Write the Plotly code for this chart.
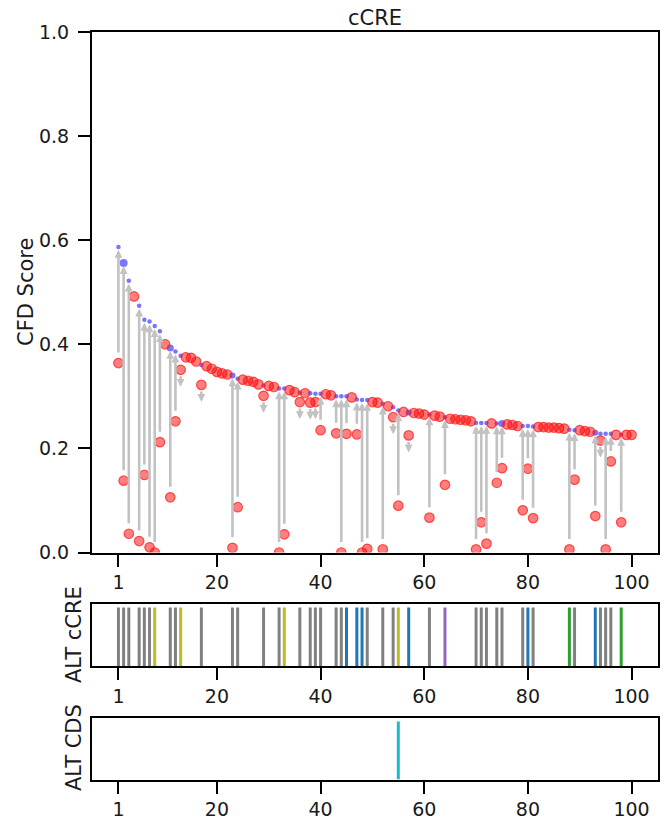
import plotly.graph_objects as go

# ---------------- data ----------------
positions = list(range(1, 101))

ref_score = [
    0.587, 0.556, 0.522, 0.492, 0.474, 0.447, 0.444, 0.435, 0.425, 0.400,
    0.393, 0.386, 0.378, 0.375, 0.374, 0.367, 0.360, 0.358, 0.353, 0.347,
    0.344, 0.342, 0.340, 0.334, 0.332, 0.330, 0.328, 0.323, 0.321, 0.320,
    0.318, 0.315, 0.315, 0.312, 0.308, 0.307, 0.306, 0.306, 0.305, 0.305,
    0.304, 0.302, 0.300, 0.300, 0.300, 0.298, 0.294, 0.293, 0.293, 0.289,
    0.288, 0.286, 0.281, 0.279, 0.273, 0.270, 0.269, 0.268, 0.267, 0.265,
    0.265, 0.263, 0.261, 0.260, 0.257, 0.256, 0.255, 0.254, 0.252, 0.249,
    0.249, 0.249, 0.248, 0.248, 0.248, 0.246, 0.245, 0.243, 0.243, 0.243,
    0.242, 0.241, 0.241, 0.240, 0.240, 0.239, 0.238, 0.236, 0.235, 0.235,
    0.233, 0.232, 0.230, 0.228, 0.228, 0.228, 0.226, 0.226, 0.226, 0.226,
]

alt_score = [
    0.364, 0.138, 0.036, 0.492, 0.022, 0.149, 0.010, 0.000, 0.212, 0.400,
    0.106, 0.252, 0.351, 0.375, 0.374, 0.367, 0.322, 0.358, 0.353, 0.347,
    0.344, 0.342, 0.009, 0.087, 0.332, 0.330, 0.328, 0.323, 0.301, 0.320,
    0.318, 0.000, 0.035, 0.312, 0.308, 0.289, 0.306, 0.288, 0.289, 0.235,
    0.304, 0.302, 0.229, 0.000, 0.228, 0.298, 0.227, 0.000, 0.007, 0.289,
    0.288, 0.006, 0.281, 0.260, 0.090, 0.270, 0.225, 0.268, 0.267, 0.265,
    0.067, 0.263, 0.261, 0.130, 0.257, 0.256, 0.255, 0.254, 0.252, 0.006,
    0.058, 0.017, 0.248, 0.134, 0.162, 0.246, 0.245, 0.243, 0.081, 0.161,
    0.066, 0.241, 0.241, 0.240, 0.240, 0.239, 0.238, 0.006, 0.140, 0.235,
    0.233, 0.232, 0.070, 0.215, 0.006, 0.175, 0.226, 0.058, 0.226, 0.226,
]

alt_ccre_pos = [1, 2, 3, 5, 6, 7, 8, 11, 12, 13, 17, 23, 24, 29, 32, 33, 36,
                38, 39, 40, 43, 44, 45, 47, 48, 49, 52, 54, 55, 57, 61, 64,
                70, 71, 72, 74, 75, 79, 80, 81, 88, 89, 93, 94, 95, 96, 98]
alt_ccre_type = ["a", "a", "a", "a", "a", "a", "b", "a", "a", "b", "a", "a",
                 "a", "a", "a", "b", "a", "a", "a", "a", "a", "a", "c", "c",
                 "c", "a", "a", "a", "b", "c", "a", "d", "a", "a", "a", "a",
                 "a", "a", "c", "a", "e", "a", "c", "a", "a", "a", "e"]

alt_cds_pos = [55]
alt_cds_type = ["f"]

x_ticks = [1, 20, 40, 60, 80, 100]
y_ticks = [0.0, 0.2, 0.4, 0.6, 0.8, 1.0]
y_tick_text = ["0.0", "0.2", "0.4", "0.6", "0.8", "1.0"]

# ---------------- style ----------------
W, H = 667, 823
FONT = "DejaVu Sans"
TXT = "#1a1a1a"
type_colors = {"a": "#808080", "b": "#bcbd22", "c": "#1f77b4",
               "d": "#9467bd", "e": "#2ca02c", "f": "#17becf"}
big_blue = {2: 8, 11: 7, 23: 6, 57: 6, 75: 7, 93: 6}
ARROW = "#c2c2c2"
XR = [-4.1, 105.1]

def px2x(p):
    return p / W

def py2y(p):
    return 1 - p / H

main_x = [px2x(92), px2x(658)]
main_y = [py2y(552.5), py2y(32)]
ccre_y = [py2y(666), py2y(604)]
cds_y = [py2y(779.5), py2y(718)]

fig = go.Figure()

# blue reference points where alt differs
bx, by, bs = [], [], []
for p, r, a in zip(positions, ref_score, alt_score):
    if abs(r - a) > 1e-9:
        bx.append(p)
        by.append(r)
        bs.append(big_blue.get(p, 4.5))

fig.add_trace(go.Scatter(
    x=bx, y=by, mode="markers", xaxis="x", yaxis="y",
    marker=dict(size=bs, color="rgba(25,25,255,0.85)", line=dict(width=0)),
    showlegend=False, hoverinfo="skip"))

fig.add_trace(go.Scatter(
    x=positions, y=alt_score, mode="markers", xaxis="x", yaxis="y",
    marker=dict(size=9.5, color="rgba(255,0,0,0.5)",
                line=dict(width=1.2, color="rgba(255,30,30,0.75)")),
    showlegend=False, hoverinfo="skip"))

annotations = []
for p, r, a in zip(positions, ref_score, alt_score):
    d = r - a
    if d <= 1e-9:
        continue
    if d > 0.05:
        annotations.append(dict(
            x=p, y=r, ax=p, ay=a, xref="x", yref="y", axref="x", ayref="y",
            text="", showarrow=True, arrowhead=2, arrowsize=0.6,
            arrowwidth=2.6, arrowcolor=ARROW, standoff=3, startstandoff=9))
    else:
        annotations.append(dict(
            x=p, y=a, ax=0, ay=-12, xref="x", yref="y",
            text="", showarrow=True, arrowhead=2, arrowsize=0.6,
            arrowwidth=2.6, arrowcolor=ARROW, yshift=-17))

# lower panels: vertical lines grouped by type
def add_vlines(pos, types, xa, ya):
    groups = {}
    for p, t in zip(pos, types):
        groups.setdefault(t, []).append(p)
    for t, ps in groups.items():
        xs, ys = [], []
        for p in ps:
            xs += [p, p, None]
            ys += [0, 1, None]
        fig.add_trace(go.Scatter(
            x=xs, y=ys, mode="lines", xaxis=xa, yaxis=ya,
            line=dict(color=type_colors[t], width=3),
            showlegend=False, hoverinfo="skip"))

add_vlines(alt_ccre_pos, alt_ccre_type, "x2", "y2")
add_vlines(alt_cds_pos, alt_cds_type, "x3", "y3")

axis_common = dict(showline=True, mirror=True, linecolor="black", linewidth=2,
                   showgrid=False, zeroline=False, automargin=False)
xcommon = dict(axis_common, range=XR, tickvals=x_ticks, ticks="outside",
               ticklen=12, tickwidth=2, tickcolor="black",
               tickfont=dict(family=FONT, size=19, color=TXT))

# titles
cx = (main_x[0] + main_x[1]) / 2
annotations.append(dict(x=cx, y=py2y(18), xref="paper", yref="paper",
                        text="cCRE", showarrow=False, xanchor="center",
                        yanchor="middle",
                        font=dict(family=FONT, size=21, color=TXT)))
annotations.append(dict(x=px2x(26), y=py2y(292), xref="paper", yref="paper",
                        text="CFD Score", showarrow=False, textangle=-90,
                        xanchor="center", yanchor="middle",
                        font=dict(family=FONT, size=21, color=TXT)))
annotations.append(dict(x=px2x(74), y=py2y(635), xref="paper", yref="paper",
                        text="ALT cCRE", showarrow=False, textangle=-90,
                        xanchor="center", yanchor="middle",
                        font=dict(family=FONT, size=21, color=TXT)))
annotations.append(dict(x=px2x(74), y=py2y(748), xref="paper", yref="paper",
                        text="ALT CDS", showarrow=False, textangle=-90,
                        xanchor="center", yanchor="middle",
                        font=dict(family=FONT, size=21, color=TXT)))

fig.update_layout(
    template="none",
    width=W, height=H,
    margin=dict(l=0, r=0, t=0, b=0, pad=0),
    paper_bgcolor="white", plot_bgcolor="white",
    font=dict(family=FONT, color=TXT),
    xaxis=dict(xcommon, domain=main_x, anchor="y"),
    yaxis=dict(axis_common, domain=main_y, anchor="x", range=[0, 1],
               tickvals=y_ticks, ticktext=y_tick_text, ticks="outside",
               ticklen=12, tickwidth=2, tickcolor="black",
               ticklabelstandoff=5,
               tickfont=dict(family=FONT, size=19, color=TXT)),
    xaxis2=dict(xcommon, domain=main_x, anchor="y2"),
    yaxis2=dict(axis_common, domain=ccre_y, anchor="x2", range=[0, 1.06],
                showticklabels=False, ticks=""),
    xaxis3=dict(xcommon, domain=main_x, anchor="y3"),
    yaxis3=dict(axis_common, domain=cds_y, anchor="x3", range=[0, 1.06],
                showticklabels=False, ticks=""),
    annotations=annotations,
)

post = (
    "document.body.style.margin='0';"
    "document.body.style.padding='0';"
    "document.body.style.overflow='hidden';"
    "var gd=document.getElementById('{plot_id}');"
    "Plotly.relayout(gd,{width:%d,height:%d});" % (W, H)
)

fig.write_html("out.html", post_script=post,
               config={"displayModeBar": False})
